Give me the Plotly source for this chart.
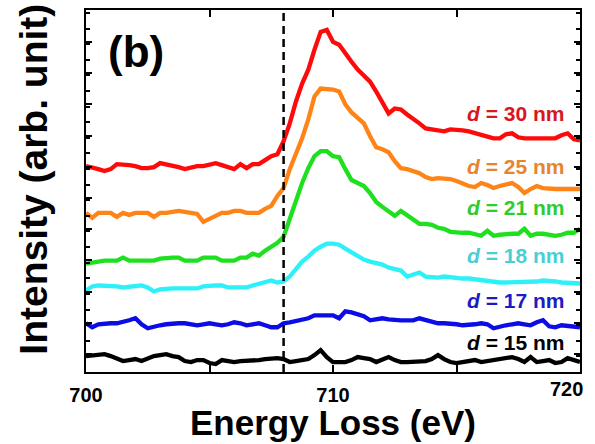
import numpy as np
import plotly.graph_objects as go

# Energy grid (eV)
energy = [700 + 0.25 * i for i in range(81)]

# Spectra (arb. units, vertically offset as in the figure)
d30 = [207,206,204,202,204,209,209,208,207,205,205,206,210,209,207,206,204,206,207,207,
       208,210,208,206,204,209,205,209,209,213,217,219,232,250,272,290,304,324,342,344,
       332,329,320,312,304,298,292,282,272,260,265,264,259,255,250,245,244,243,242,244,
       244,243,242,240,238,237,235,235,239,240,236,235,235,235,235,235,235,238,240,234,233]
d25 = [160,155,160,160,160,156,160,158,160,160,160,156,160,160,161,162,161,160,159,151,
       154,157,160,160,162,162,160,160,160,164,167,177,185,204,220,235,254,277,285,285,
       284,282,269,261,256,250,237,226,224,221,212,205,204,202,200,196,194,195,195,194,
       192,189,187,186,190,188,185,187,189,190,186,180,184,187,185,184,184,184,184,184,184]
d21 = [109,110,112,112,112,112,115,112,112,112,112,112,114,115,115,115,112,112,112,115,
       115,115,112,112,112,115,115,119,117,122,126,130,136,154,174,190,205,217,222,222,
       217,216,204,193,190,187,180,171,166,161,157,162,158,154,149,149,148,145,144,141,
       140,140,140,138,137,142,137,138,139,139,139,144,137,139,139,138,137,138,140,140,144]
d18 = [82,86,87,87,87,86,85,86,87,87,85,81,83,84,84,84,84,84,84,86,
       87,87,87,85,85,85,85,87,89,91,92,90,91,96,104,111,116,122,126,129,
       129,128,124,120,116,113,111,110,108,105,103,102,96,98,100,96,95,95,96,95,
       94,94,94,93,92,92,90,90,90,90,90,90,91,91,92,92,91,90,90,90,89]
d17 = [49,45,48,49,49,49,50,52,54,48,44,46,47,48,49,49,49,48,47,48,
       49,48,47,48,50,49,47,48,49,47,45,45,49,50,51,52,54,57,57,57,
       57,54,61,60,58,56,52,53,54,53,52,52,52,52,54,52,50,49,49,49,
       48,47,47,48,49,48,44,46,47,48,49,48,47,50,52,46,45,47,46,45,45]
d15 = [16,17,17,18,16,14,11,12,13,11,14,16,17,18,16,15,11,10,12,12,
       9,8,12,11,10,11,11,11,12,13,14,14,13,10,11,12,13,17,22,15,
       10,10,10,12,15,14,13,10,12,15,12,10,10,10,10,11,13,17,13,10,
       9,10,11,12,10,11,12,14,14,15,13,10,15,10,11,12,9,10,14,12,10]

series = [d30, d25, d21, d18, d17, d15]
labels = ["30", "25", "21", "18", "17", "15"]
label_y = [260, 207, 165, 117, 72, 30]
line_colors = ["#ff0a0a", "#ff8418", "#1ee01e", "#2ef0f8", "#0c0ce6", "#000000"]
text_colors = ["#d8161e", "#e8842c", "#2ecc2e", "#48cfd6", "#1c1cc4", "#000000"]

edge_energy = 708.0
x_ticks = [700, 710, 720]
x_minor = [705, 715]

fig = go.Figure()
for ys, c in zip(series, line_colors):
    fig.add_trace(go.Scatter(x=energy, y=ys, mode="lines",
                             line=dict(color=c, width=4.3), showlegend=False))

fig.add_trace(go.Scatter(x=[edge_energy, edge_energy], y=[0, 364], mode="lines",
                         line=dict(color="black", width=2.5, dash="8px,5px"),
                         showlegend=False))

FONT = "Liberation Sans, Arial, sans-serif"
for lab, ly, tc in zip(labels, label_y, text_colors):
    fig.add_annotation(x=719.45, y=ly, xref="x", yref="y",
                       text=f"<b><i>d</i> = {lab} nm</b>", showarrow=False,
                       xanchor="right", yanchor="middle",
                       font=dict(family=FONT, size=21, color=tc))

fig.add_annotation(x=0.102, y=0.885, xref="paper", yref="paper", text="<b>(b)</b>",
                   showarrow=False, xanchor="center", yanchor="middle",
                   font=dict(family=FONT, size=44, color="black"))

# last tick label kept inside the page, right-aligned like the reference
fig.add_annotation(x=1.01, y=-0.047, xref="paper", yref="paper",
                   text=f"<b>{x_ticks[-1]}</b>", showarrow=False,
                   xanchor="right", yanchor="middle",
                   font=dict(family=FONT, size=20, color="black"))

fig.add_annotation(x=0.5, y=-0.197, xref="paper", yref="paper",
                   text="<b>Energy Loss (eV)</b>", showarrow=False,
                   xanchor="center", yanchor="bottom", borderpad=0,
                   font=dict(family=FONT, size=35, color="black"))
fig.add_annotation(x=-0.108, y=0.533, xref="paper", yref="paper",
                   text="<b>Intensity (arb. unit)</b>", showarrow=False,
                   textangle=-90, xanchor="center", yanchor="middle",
                   font=dict(family=FONT, size=39, color="black"))

fig.update_xaxes(range=[700, 720], tickvals=x_ticks,
                 ticktext=[f"<b>{v}</b>" for v in x_ticks[:-1]] + [""],
                 ticks="inside", ticklen=7, tickwidth=1.5, tickcolor="black",
                 ticklabelstandoff=4,
                 minor=dict(tickvals=x_minor, ticks="inside", ticklen=7, tickwidth=1.5,
                            tickcolor="black"),
                 showline=True, linewidth=2, linecolor="black", mirror="allticks",
                 showgrid=False, zeroline=False,
                 tickfont=dict(family=FONT, size=20, color="black"))
fig.update_yaxes(range=[0, 364], tick0=18, dtick=31.4, showticklabels=False,
                 ticks="inside", ticklen=6, tickwidth=1.5, tickcolor="black",
                 minor=dict(dtick=15.7, ticks="inside", ticklen=4, tickwidth=1.5,
                            tickcolor="black"),
                 showline=True, linewidth=2, linecolor="black", mirror="allticks",
                 showgrid=False, zeroline=False)

fig.update_layout(width=595, height=444, margin=dict(l=86, r=15, t=8, b=72),
                  paper_bgcolor="white", plot_bgcolor="white",
                  font=dict(family=FONT, color="black"))

fig.write_html("out.html", config={"displayModeBar": False},
               post_script="document.body.style.margin='0';")
